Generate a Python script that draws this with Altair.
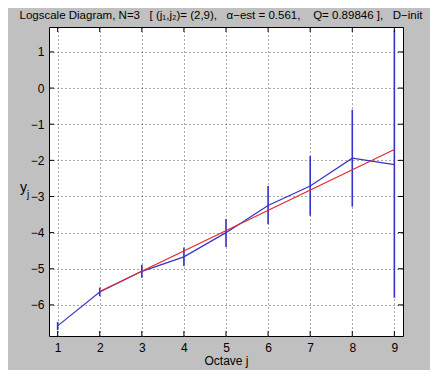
import altair as alt
import pandas as pd

# ---- data ----
octaves = [1, 2, 3, 4, 5, 6, 7, 8, 9]
yj = [-6.58, -5.64, -5.07, -4.67, -4.00, -3.25, -2.71, -1.94, -2.12]
lower = [-6.70, -5.76, -5.25, -4.92, -4.40, -3.77, -3.53, -3.28, -5.80]
upper = [-6.47, -5.52, -4.89, -4.41, -3.62, -2.71, -1.88, -0.60, 1.60]
fit_j = [2, 9]
fit_y = [-5.63, -1.70]
x_ticks = [1, 2, 3, 4, 5, 6, 7, 8, 9]
y_ticks = [-6, -5, -4, -3, -2, -1, 0, 1]
NB = "\u00a0"
title_text = ("Logscale Diagram, N=3" + NB * 3 + "[ (j\u2081,j\u2082)= (2,9)," + NB * 3 +
              "\u03b1\u2212est = 0.561," + NB * 4 + "Q= 0.89846 ]," + NB * 3 + "D\u2212init")

W, H = 354, 309
XD = [0.795, 9.205]
YD = [-6.86, 1.69]
BLUE = "#3434cc"
RED = "#e3262c"
FONT = "Liberation Sans"

df = pd.DataFrame({"j": octaves, "y": yj, "lo": lower, "hi": upper})
fit = pd.DataFrame({"j": fit_j, "y": fit_y})
xt = pd.DataFrame({"v": x_ticks})
yt = pd.DataFrame({"v": y_ticks})

xs = alt.Scale(domain=XD, nice=False, zero=False)
ys = alt.Scale(domain=YD, nice=False, zero=False)

xaxis = alt.Axis(values=x_ticks, title="Octave j", grid=True, gridDash=[1, 3], gridColor="#444444",
                 gridOpacity=0.9, tickSize=0, domain=False, labelFontSize=12, labelFont=FONT,
                 labelColor="black", labelPadding=6, titleFont=FONT, titleFontSize=12,
                 titleFontWeight="normal", titleColor="black", titlePadding=2, labelFlush=False)
yaxis = alt.Axis(values=y_ticks, title=None, grid=True, gridDash=[1, 3], gridColor="#444444",
                 gridOpacity=0.9, tickSize=0, domain=False, labelFontSize=12, labelFont=FONT,
                 labelColor="black", labelPadding=5, format="d")

errs = alt.Chart(df).mark_rule(color=BLUE, strokeWidth=1.6).encode(
    x=alt.X("j:Q", scale=xs, axis=xaxis),
    y=alt.Y("lo:Q", scale=ys, axis=yaxis),
    y2="hi:Q",
)
line = alt.Chart(df).mark_line(color=BLUE, strokeWidth=1.2).encode(
    x=alt.X("j:Q", scale=xs), y=alt.Y("y:Q", scale=ys))
fitline = alt.Chart(fit).mark_line(color=RED, strokeWidth=1.2).encode(
    x=alt.X("j:Q", scale=xs), y=alt.Y("y:Q", scale=ys))

tk_b = alt.Chart(xt).mark_rule(color="black").encode(
    x=alt.X("v:Q", scale=xs), y=alt.value(H), y2=alt.value(H - 5))
tk_t = alt.Chart(xt).mark_rule(color="black").encode(
    x=alt.X("v:Q", scale=xs), y=alt.value(0), y2=alt.value(5))
tk_l = alt.Chart(yt).mark_rule(color="black").encode(
    y=alt.Y("v:Q", scale=ys), x=alt.value(0), x2=alt.value(5))
tk_r = alt.Chart(yt).mark_rule(color="black").encode(
    y=alt.Y("v:Q", scale=ys), x=alt.value(W), x2=alt.value(W - 5))

ttl = alt.Chart(pd.DataFrame({"t": [title_text]})).mark_text(
    font=FONT, fontSize=11.5, color="black", align="center", baseline="middle").encode(
    text="t:N", x=alt.value(172), y=alt.value(-11))
ylab = alt.Chart(pd.DataFrame({"t": ["y"]})).mark_text(
    font=FONT, fontSize=14, color="black", align="left", baseline="alphabetic").encode(
    text="t:N", x=alt.value(-29), y=alt.value(165))
ysub = alt.Chart(pd.DataFrame({"t": ["j"]})).mark_text(
    font=FONT, fontSize=10, color="black", align="left", baseline="alphabetic").encode(
    text="t:N", x=alt.value(-22), y=alt.value(171))

chart = alt.layer(errs, line, fitline, tk_b, tk_t, tk_l, tk_r, ttl, ylab, ysub).properties(
    width=W, height=H,
    autosize=alt.AutoSizeParams(type="none"),
    padding={"left": 41, "top": 19, "right": 27, "bottom": 34},
    background="#c0c0c0",
).configure_view(stroke="black", strokeWidth=1, fill="white")

chart.save("out.html", embed_options={"renderer": "svg", "actions": False})
